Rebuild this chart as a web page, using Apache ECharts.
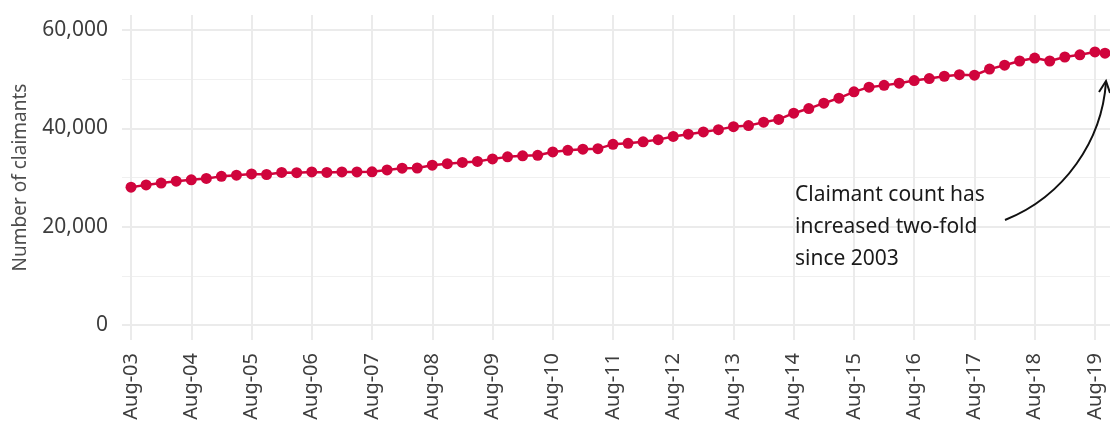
<!DOCTYPE html>
<html>
<head>
<meta charset="utf-8">
<script src="https://cdn.jsdelivr.net/npm/echarts@6/dist/echarts.min.js"></script>
<style>
  html, body { margin: 0; padding: 0; background: #fff; }
  #chart { width: 1110px; height: 424px; }
</style>
</head>
<body>
<div id="chart"></div>
<script>
// quarterly claimant counts, Aug-03 to Oct-19
var periods = [
  'Aug-03', 'Nov-03',
  'Feb-04', 'May-04', 'Aug-04', 'Nov-04',
  'Feb-05', 'May-05', 'Aug-05', 'Nov-05',
  'Feb-06', 'May-06', 'Aug-06', 'Nov-06',
  'Feb-07', 'May-07', 'Aug-07', 'Nov-07',
  'Feb-08', 'May-08', 'Aug-08', 'Nov-08',
  'Feb-09', 'May-09', 'Aug-09', 'Nov-09',
  'Feb-10', 'May-10', 'Aug-10', 'Nov-10',
  'Feb-11', 'May-11', 'Aug-11', 'Nov-11',
  'Feb-12', 'May-12', 'Aug-12', 'Nov-12',
  'Feb-13', 'May-13', 'Aug-13', 'Nov-13',
  'Feb-14', 'May-14', 'Aug-14', 'Nov-14',
  'Feb-15', 'May-15', 'Aug-15', 'Nov-15',
  'Feb-16', 'May-16', 'Aug-16', 'Nov-16',
  'Feb-17', 'May-17', 'Aug-17', 'Nov-17',
  'Feb-18', 'May-18', 'Aug-18', 'Nov-18',
  'Feb-19', 'May-19', 'Aug-19', 'Oct-19'
]

var claimants = [
  28030, 28500, 28880, 29250, 29530, 29800, 30230, 30470, 30730, 30610,
  31020, 30980, 31120, 31020, 31140, 31120, 31160, 31530, 31890, 31930,
  32500, 32810, 33050, 33260, 33780, 34190, 34400, 34500, 35190, 35510,
  35760, 35860, 36730, 36940, 37240, 37690, 38340, 38790, 39260, 39720,
  40330, 40540, 41230, 41800, 43060, 44000, 45090, 46110, 47390, 48350,
  48710, 49160, 49690, 50100, 50560, 50870, 50770, 52010, 52800, 53660,
  54250, 53660, 54470, 54920, 55490, 55240
]

var xTickLabels = ['Aug-03', 'Aug-04', 'Aug-05', 'Aug-06', 'Aug-07', 'Aug-08', 'Aug-09',
  'Aug-10', 'Aug-11', 'Aug-12', 'Aug-13', 'Aug-14', 'Aug-15', 'Aug-16', 'Aug-17',
  'Aug-18', 'Aug-19']
var yMajorTicks = [0, 20000, 40000, 60000]
var yMinorTicks = [10000, 30000, 50000]

var annotationLines = ['Claimant count has', 'increased two-fold', 'since 2003']

var MONTHS = { Jan: 1, Feb: 2, Mar: 3, Apr: 4, May: 5, Jun: 6, Jul: 7, Aug: 8, Sep: 9, Oct: 10, Nov: 11, Dec: 12 }

// months since Aug-03, so the x axis is a plain value axis
function monthOffset(label) {
  var parts = label.split('-')
  return (2000 + Number(parts[1]) - 2003) * 12 + MONTHS[parts[0]] - 8
}

var xTicks = xTickLabels.map(monthOffset)
var tickText = {}
xTickLabels.forEach(function(l, i) { tickText[xTicks[i]] = l })

var seriesData = periods.map(function(p, i) {
  return [monthOffset(p), claimants[i]]
})

var FONT = '"Noto Sans", "Open Sans", sans-serif'
var RED = '#d0043c'
var GRID = '#ebebeb'

var chart = echarts.init(document.getElementById('chart'))

var option = {
  backgroundColor: '#fff',
  animation: false,
  textStyle: { fontFamily: FONT },
  grid: { left: 122, right: 0, top: 15, bottom: 84 },
  xAxis: {
    type: 'value',
    min: -1.8,
    max: 195,
    axisLine: { show: false },
    axisTick: { show: false, customValues: xTicks },
    axisLabel: {
      customValues: xTicks,
      rotate: 90,
      margin: 13,
      fontSize: 20,
      color: '#3d3d3d',
      fontFamily: FONT,
      formatter: function(v) {
        return tickText[v]
      }
    },
    splitLine: { show: true, lineStyle: { color: GRID, width: 2 } }
  },
  yAxis: [{
    type: 'value',
    min: -3000,
    max: 63000,
    name: 'Number of claimants',
    nameLocation: 'middle',
    nameRotate: 90,
    nameGap: 92,
    nameTextStyle: { fontSize: 19, color: '#4d4d4d', fontFamily: FONT },
    axisLine: { show: false },
    axisTick: { show: false, customValues: yMajorTicks },
    axisLabel: {
      customValues: yMajorTicks,
      margin: 14,
      fontSize: 21,
      color: '#3d3d3d',
      fontFamily: FONT,
      formatter: function(v) {
        return v.toLocaleString('en-GB')
      }
    },
    splitLine: { show: true, lineStyle: { color: GRID, width: 2 } }
  }, {
    // minor grid lines only
    type: 'value',
    min: -3000,
    max: 63000,
    position: 'left',
    axisLine: { show: false },
    axisTick: { show: false, customValues: yMinorTicks },
    axisLabel: { show: false, customValues: yMinorTicks },
    splitLine: { show: true, lineStyle: { color: '#f0f0f0', width: 1.2 } }
  }],
  series: [{
    type: 'line',
    data: seriesData,
    symbol: 'circle',
    symbolSize: 11,
    showSymbol: true,
    lineStyle: { color: RED, width: 2.5 },
    itemStyle: { color: RED },
    z: 3
  }],
  graphic: [{
    type: 'text',
    left: 795,
    top: 179,
    z: 100,
    style: {
      text: annotationLines.join('\n'),
      font: '21px ' + FONT,
      lineHeight: 32,
      fill: '#1a1a1a'
    }
  }, {
    type: 'bezierCurve',
    z: 100,
    shape: { x1: 1005, y1: 220, cpx1: 1065, cpy1: 196, cpx2: 1102, cpy2: 140, x2: 1106, y2: 82 },
    style: { stroke: '#111', lineWidth: 2, fill: null }
  }, {
    type: 'polyline',
    z: 100,
    shape: { points: [[1099, 92], [1106, 81], [1110, 93]] },
    style: { stroke: '#111', lineWidth: 2, fill: null }
  }]
}

chart.setOption(option)
</script>
</body>
</html>
